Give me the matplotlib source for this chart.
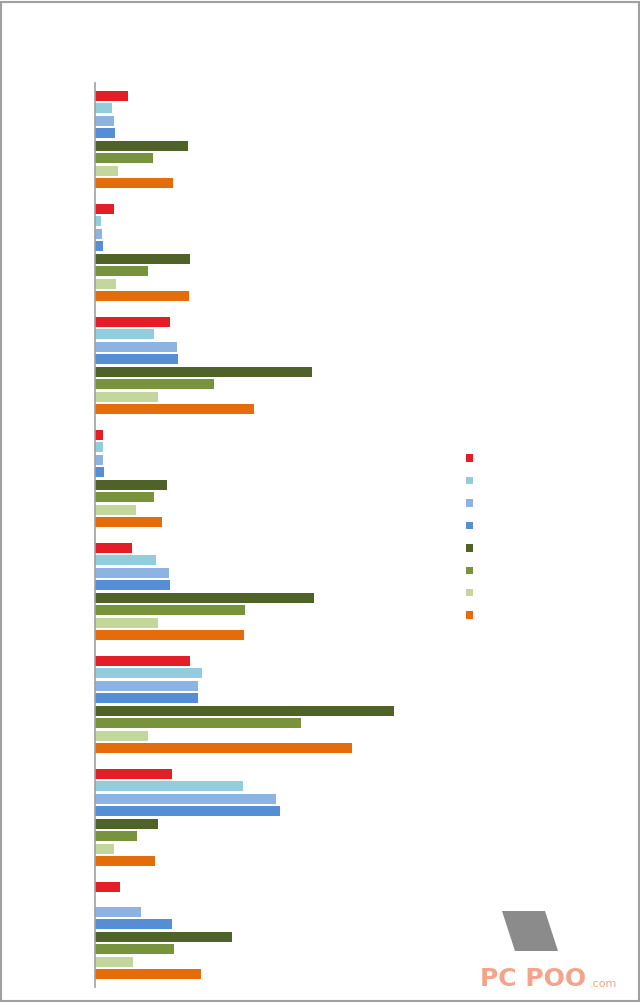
import numpy as np
import matplotlib.pyplot as plt
from matplotlib.patches import Patch, Rectangle, Polygon

# ---------------- data (arbitrary units) ----------------
groups = ["G1", "G2", "G3", "G4", "G5", "G6", "G7", "G8"]
series = ["S1", "S2", "S3", "S4", "S5", "S6", "S7", "S8"]
colors = ["#E41E26", "#92CDDC", "#8DB3E2", "#558ED5",
          "#4F6228", "#77933C", "#C3D69B", "#E46C0A"]

s1 = [33, 19, 75, 8, 37, 95, 77, 25]
s2 = [17, 6, 59, 8, 61, 107, 148, 0]
s3 = [19, 7, 82, 8, 74, 103, 181, 46]
s4 = [20, 8, 83, 9, 75, 103, 185, 77]
s5 = [93, 95, 217, 72, 219, 299, 63, 137]
s6 = [58, 53, 119, 59, 150, 206, 42, 79]
s7 = [23, 21, 63, 41, 63, 53, 19, 38]
s8 = [78, 94, 159, 67, 149, 257, 60, 106]
values = [s1, s2, s3, s4, s5, s6, s7, s8]

fig = plt.figure(figsize=(6.4, 10.02), dpi=100)
ax = fig.add_axes([95/640, 1 - 987/1002, 350/640, 904/1002])

y = np.arange(len(groups))
slot = 1 / 9
for j, vals in enumerate(values):
    ax.barh(y + (j - 3.5) * slot, vals, height=slot * 0.8,
            color=colors[j], label=series[j], edgecolor="none")

ax.set_xlim(0, 350)
ax.set_ylim(7.5, -0.5)
for s in ["top", "right", "bottom"]:
    ax.spines[s].set_visible(False)
ax.spines["left"].set_color("#A0A0A0")
ax.spines["left"].set_linewidth(1.2)
ax.set_xticks([])
ax.set_yticks([])

handles = [Patch(facecolor=c, edgecolor="none") for c in colors]
leg = fig.legend(handles, series, loc="upper left",
                 bbox_to_anchor=(456/640, 1 - 444/1002),
                 frameon=False, fontsize=8, handlelength=0.65, handleheight=0.65,
                 labelspacing=1.12, handletextpad=0.6)
for t in leg.get_texts():
    t.set_color("white")

# watermark
fig.patches.append(Polygon([[502/640, 1 - 911/1002], [545/640, 1 - 911/1002],
                            [558/640, 1 - 951/1002], [515/640, 1 - 951/1002]],
                           closed=True, transform=fig.transFigure,
                           facecolor="#7F7F7F", edgecolor="none", alpha=0.9))
fig.text(480/640, 1 - 979/1002, "PC POO", color="#F4A48A", fontsize=18,
         fontweight="bold", va="center", ha="left")
fig.text(590/640, 1 - 984/1002, ".com", color="#F4A48A", fontsize=8,
         va="center", ha="left")

# figure border
fig.patches.append(Rectangle((0.001, 0.001), 0.997, 0.997, transform=fig.transFigure,
                             fill=False, edgecolor="#A0A0A0", linewidth=1.5))

fig.savefig("out.png", dpi=100)
